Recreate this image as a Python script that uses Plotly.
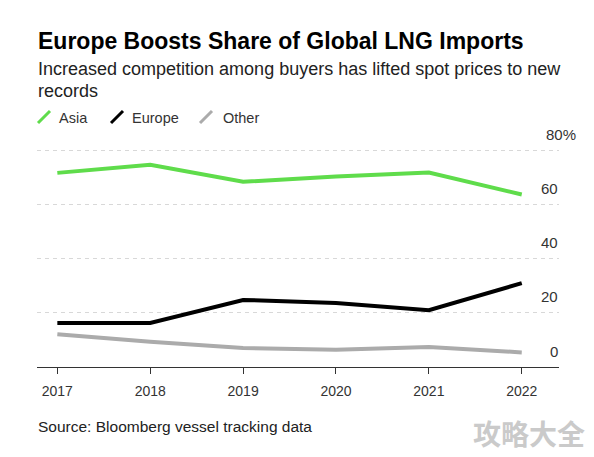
import plotly.graph_objects as go

years = [2017, 2018, 2019, 2020, 2021, 2022]
asia = [71.8, 74.8, 68.5, 70.5, 71.9, 63.8]
europe = [16.3, 16.3, 24.8, 23.7, 21.0, 31.0]
other = [12.1, 9.3, 7.0, 6.4, 7.4, 5.4]
y_ticks = [0, 20, 40, 60, 80]
series_names = ["Asia", "Europe", "Other"]
series_colors = ["#5fdc4b", "#000000", "#ababab"]

W, H = 594, 457
L, R, T, B = 37, 559, 148, 367
YMAX = 81

def px(x):
    return (x - L) / (R - L)

def py(y):
    return (B - y) / (B - T)

FONT = "Liberation Sans, Arial, Helvetica, sans-serif"

fig = go.Figure()
for name, vals, col in zip(series_names, [asia, europe, other], series_colors):
    fig.add_trace(go.Scatter(x=years, y=vals, mode="lines", name=name,
                             line=dict(color=col, width=4), cliponaxis=False,
                             showlegend=False))

annotations = []
# y labels on right
for v in y_ticks:
    if v == 80:
        annotations.append(dict(x=px(544), xref="paper", y=v, yref="y", yshift=16,
                                text=f"{v}%", showarrow=False, xanchor="left",
                                font=dict(size=15, color="#333333", family=FONT)))
    else:
        annotations.append(dict(x=px(560), xref="paper", y=v, yref="y", yshift=16,
                                text=f"{v}", showarrow=False, xanchor="right",
                                font=dict(size=15, color="#333333", family=FONT)))

# Title / subtitle
annotations.append(dict(x=px(36), xref="paper", y=py(40.5), yref="paper",
                        text="<b>Europe Boosts Share of Global LNG Imports</b>",
                        showarrow=False, xanchor="left", yanchor="middle",
                        font=dict(size=23, color="#000000", family=FONT)))
annotations.append(dict(x=px(36), xref="paper", y=py(69), yref="paper",
                        text="Increased competition among buyers has lifted spot prices to new",
                        showarrow=False, xanchor="left", yanchor="middle", align="left",
                        font=dict(size=18, color="#222222", family=FONT)))
annotations.append(dict(x=px(36), xref="paper", y=py(90.5), yref="paper",
                        text="records",
                        showarrow=False, xanchor="left", yanchor="middle", align="left",
                        font=dict(size=18, color="#222222", family=FONT)))
# Legend
shapes = []
leg_icon_x = [38, 111, 200]
leg_text_x = [57, 130, 221]
for name, col, ix, tx in zip(series_names, series_colors, leg_icon_x, leg_text_x):
    shapes.append(dict(type="line", xref="paper", yref="paper",
                       x0=px(ix), y0=py(123), x1=px(ix + 12), y1=py(111),
                       line=dict(color=col, width=3)))
    annotations.append(dict(x=px(tx), xref="paper", y=py(117.5), yref="paper", text=name,
                            showarrow=False, xanchor="left", yanchor="middle",
                            font=dict(size=14.5, color="#333333", family=FONT)))
# Source
annotations.append(dict(x=px(36), xref="paper", y=py(426), yref="paper",
                        text="Source: Bloomberg vessel tracking data",
                        showarrow=False, xanchor="left", yanchor="middle",
                        font=dict(size=15.5, color="#222222", family=FONT)))
# Watermark
annotations.append(dict(x=px(587), xref="paper", y=py(433), yref="paper",
                        text="<b>攻略大全</b>", showarrow=False, xanchor="right", yanchor="middle",
                        font=dict(size=28, color="#cacaca", family="Noto Sans CJK SC")))

fig.update_layout(
    width=W, height=H,
    margin=dict(l=L, r=W - R, t=T, b=H - B, pad=0),
    paper_bgcolor="white", plot_bgcolor="white",
    showlegend=False,
    annotations=annotations, shapes=shapes,
    xaxis=dict(range=[2016.781, 2022.401], tickvals=years, ticktext=[str(y) for y in years],
               showgrid=False, zeroline=False, showline=True, linecolor="#333333", linewidth=1.2,
               ticks="outside", ticklen=6, tickcolor="#333333", tickwidth=1,
               ticklabelstandoff=5,
               tickfont=dict(size=14, color="#333333", family=FONT), fixedrange=True),
    yaxis=dict(range=[0, YMAX], tickvals=[20, 40, 60, 80], showticklabels=False,
               showgrid=True, gridcolor="#d8d8d8", griddash="4px,4px", gridwidth=1,
               zeroline=False, showline=False, fixedrange=True),
)

fig.write_html("out.html", config={"displayModeBar": False},
               post_script="document.body.style.margin='0';document.body.style.padding='0';")
